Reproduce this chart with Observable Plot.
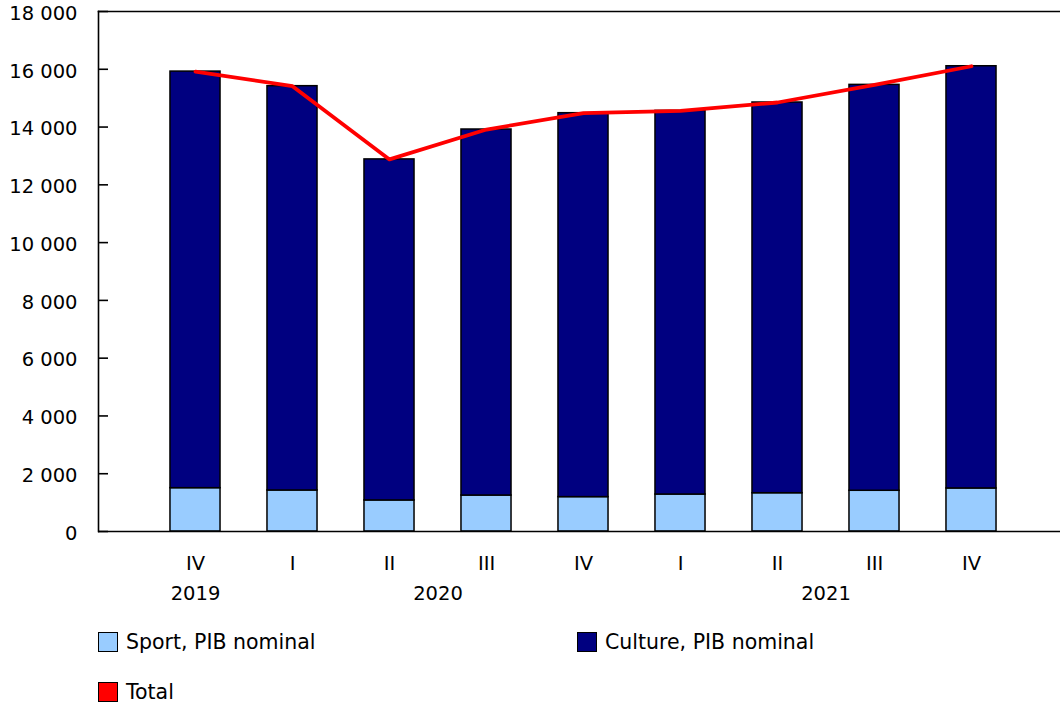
<!DOCTYPE html>
<html>
<head>
<meta charset="utf-8">
<script src="https://cdn.jsdelivr.net/npm/d3@7"></script>
<script src="https://cdn.jsdelivr.net/npm/@observablehq/plot@0.6"></script>
<style>
  html, body { margin: 0; padding: 0; background: #fff; }
  body { width: 1060px; height: 704px; overflow: hidden; font-family: "DejaVu Sans", Verdana, sans-serif; }
  #legend { position: relative; width: 1060px; height: 89px; font-size: 20.5px; color: #000; }
  .item { position: absolute; display: flex; align-items: center; }
  .sw { width: 18px; height: 18px; border: 1.5px solid #000; margin-right: 8px; }
</style>
</head>
<body>
<div id="chart"></div>
<div id="legend"></div>
<script>
// Data (millions de dollars), quarters 2019 Q4 – 2021 Q4
const quarters = ["IV", "I", "II", "III", "IV", "I", "II", "III", "IV"];
const years = ["2019", "2020", "2020", "2020", "2020", "2021", "2021", "2021", "2021"];
const sport = [1500, 1420, 1075, 1245, 1190, 1280, 1325, 1410, 1490];
const culture = [14420, 13995, 11805, 12670, 13290, 13280, 13525, 14050, 14615];
const yTicks = [0, 2000, 4000, 6000, 8000, 10000, 12000, 14000, 16000, 18000];
const seriesNames = ["Sport, PIB nominal", "Culture, PIB nominal", "Total"];
const colors = ["#99ccff", "#000080", "#ff0000"];

const rows = quarters.map((q, i) => ({
  i, q, year: years[i], sport: sport[i], culture: culture[i], total: sport[i] + culture[i]
}));
const rects = rows.flatMap(d => [
  {i: d.i, s: seriesNames[0], y1: 0, y2: d.sport},
  {i: d.i, s: seriesNames[1], y1: d.sport, y2: d.sport + d.culture}
]);
const yearLabels = Array.from(d3.group(rows, d => d.year), ([year, rs]) => ({year, i: d3.mean(rs, r => r.i)}));

const half = 0.258;
const fmt = d => d3.format(",")(d).replace(/,/g, " ");

const plot = Plot.plot({
  width: 1060,
  height: 615,
  marginLeft: 98,
  marginRight: 0,
  marginTop: 11,
  marginBottom: 84,
  style: {fontFamily: "DejaVu Sans, Verdana, sans-serif", fontSize: "19.5px", color: "#000", background: "#fff"},
  x: {domain: [0, 8], range: [195, 971], axis: null},
  y: {domain: [0, 18000], axis: null},
  color: {domain: seriesNames, range: colors},
  marks: [
    Plot.rect(rects, {x1: d => d.i - half, x2: d => d.i + half, y1: "y1", y2: "y2", fill: d => d.s, stroke: "#000", strokeWidth: 1.5}),
    Plot.line(rows, {x: "i", y: "total", stroke: colors[2], strokeWidth: 3.8}),
    Plot.frame({anchor: "left", stroke: "#000", strokeWidth: 1.6}),
    Plot.frame({anchor: "top", stroke: "#000", strokeWidth: 1.6}),
    Plot.ruleY([0], {stroke: "#000", strokeWidth: 1.6}),
    Plot.ruleY(yTicks, {stroke: "#000", strokeWidth: 1.6, insetRight: 1060 - 98 - 10}),
    Plot.axisY(yTicks, {tickSize: 0, tickPadding: 21, tickFormat: fmt, fontSize: 19.5, dy: 2}),
    Plot.text(rows, {x: "i", text: "q", frameAnchor: "bottom", dy: 38, fontSize: 19.5}),
    Plot.text(yearLabels, {x: "i", text: "year", frameAnchor: "bottom", dy: 68, fontSize: 19.5})
  ]
});
document.getElementById("chart").appendChild(plot);

const legend = document.getElementById("legend");
const pos = [{left: 98, top: 15}, {left: 577, top: 15}, {left: 98, top: 65}];
seriesNames.forEach((name, k) => {
  const el = document.createElement("div");
  el.className = "item";
  el.style.left = pos[k].left + "px";
  el.style.top = pos[k].top + "px";
  const sw = document.createElement("div");
  sw.className = "sw";
  sw.style.background = colors[k];
  el.appendChild(sw);
  const t = document.createElement("span");
  t.textContent = name;
  el.appendChild(t);
  legend.appendChild(el);
});
</script>
</body>
</html>
